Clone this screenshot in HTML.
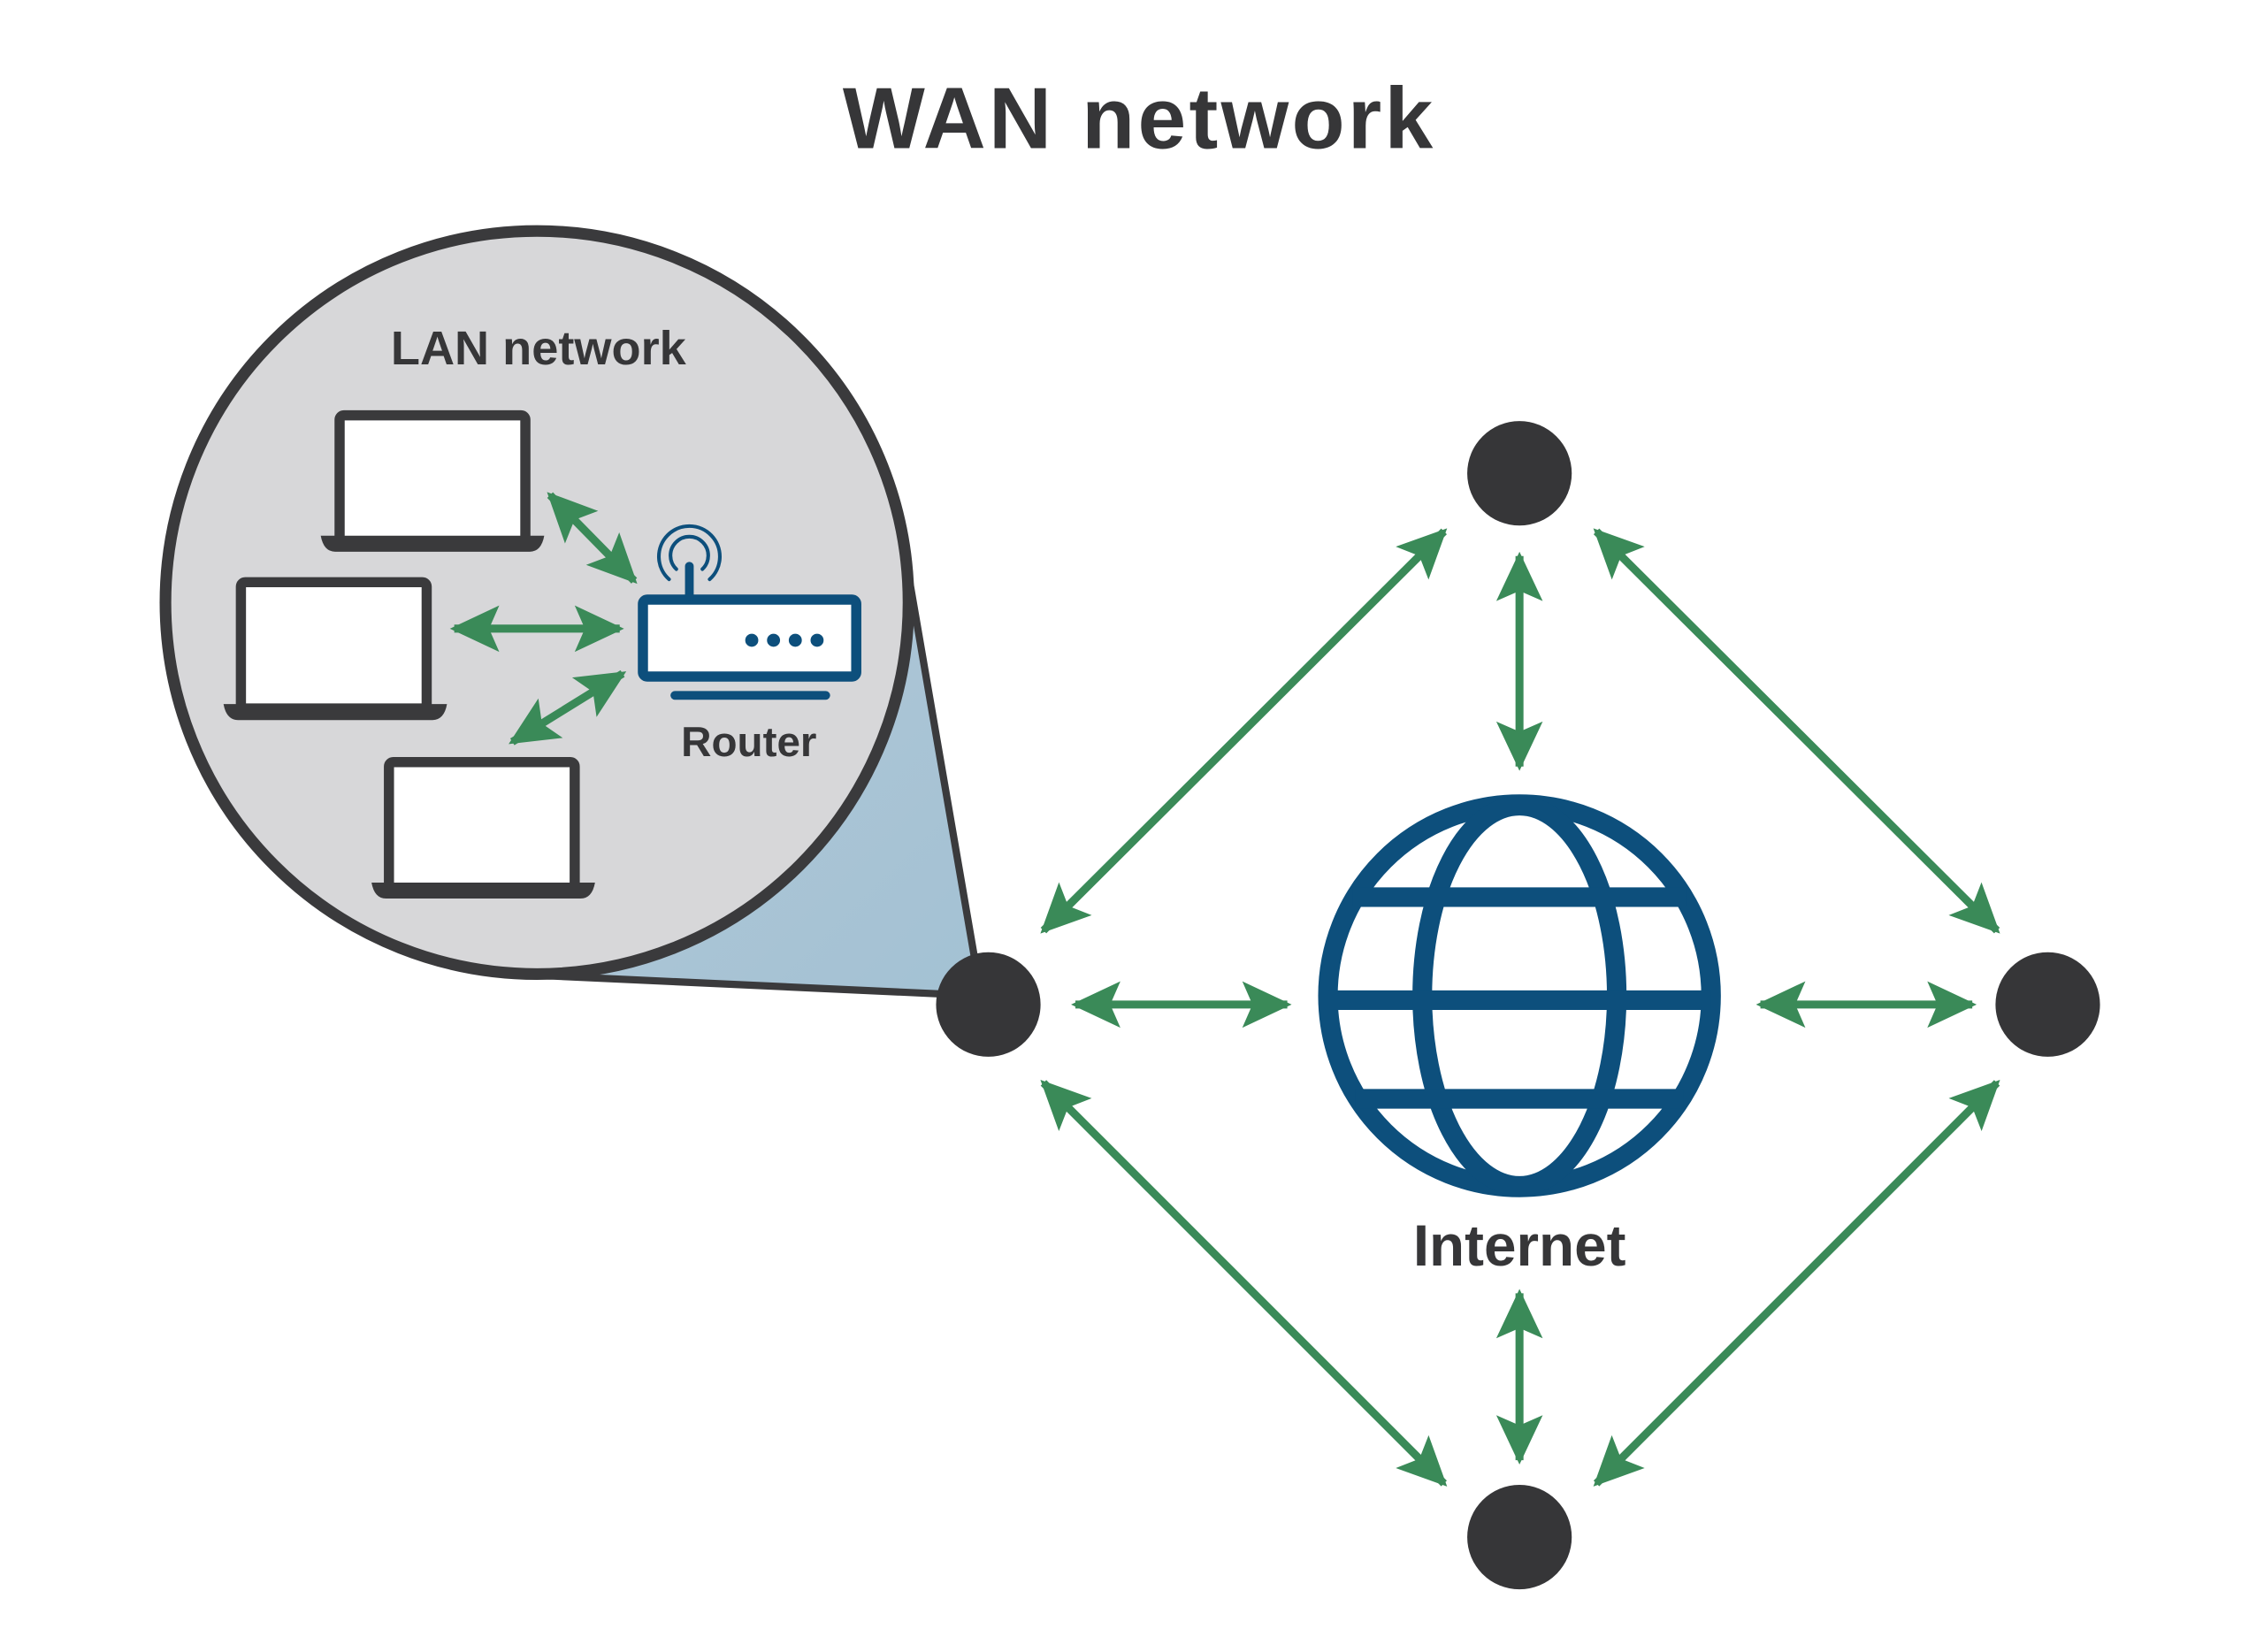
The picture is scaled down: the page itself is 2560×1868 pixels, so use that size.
<!DOCTYPE html>
<html><head><meta charset="utf-8"><style>html,body{margin:0;padding:0;background:#fff}svg{display:block}</style></head>
<body>
<svg width="2560" height="1868" viewBox="0 0 1560 1138" xmlns="http://www.w3.org/2000/svg">
<defs>
<marker id="h" markerUnits="userSpaceOnUse" markerWidth="44" markerHeight="44" viewBox="-36 -22 44 44" refX="0" refY="0" orient="auto-start-reverse">
<path d="M3,0 L-31,-16 L-24,0 L-31,16 Z" fill="#3a8a58"/>
</marker>
<linearGradient id="g" x1="0" y1="0" x2="1" y2="1"><stop offset="0" stop-color="#b2c8d8"/><stop offset="1" stop-color="#a3c1d3"/></linearGradient>
</defs>
<text x="785" y="102" text-anchor="middle" font-family="Liberation Sans, sans-serif" font-weight="bold" font-size="60" letter-spacing="2" fill="#363638">WAN network</text>

<polygon points="625,390 676,686 372,672 520,600" fill="url(#g)" stroke="#3a3a3c" stroke-width="5" stroke-linejoin="round"/>
<circle cx="370" cy="415" r="256" fill="#d7d7d9" stroke="#3a3a3c" stroke-width="8"/>

<text x="371" y="251" text-anchor="middle" font-family="Liberation Sans, sans-serif" font-weight="bold" font-size="33" fill="#363638">LAN network</text>

<g fill="#fff" stroke="#3a3a3c" stroke-width="7" stroke-linejoin="round">
<rect x="234" y="286" width="128" height="87" rx="3"/>
<rect x="166" y="401" width="128" height="87" rx="3"/>
<rect x="268" y="525" width="128" height="87" rx="3"/>
</g>
<g fill="#3a3a3c">
<path d="M221,369 h154 q-2,11 -10,11 h-134 q-8,0 -10,-11z"/>
<path d="M154,485 h154 q-2,11 -10,11 h-134 q-8,0 -10,-11z"/>
<path d="M256,608 h154 q-2,11 -10,11 h-134 q-8,0 -10,-11z"/>
</g>

<g stroke="#0d4f7c" fill="none" stroke-linecap="round">
<rect x="443" y="413" width="147" height="53" rx="3" fill="#fff" stroke-width="7"/>
<line x1="465" y1="479" x2="569" y2="479" stroke-width="6"/>
<line x1="475" y1="390" x2="475" y2="411" stroke-width="6"/>
<path d="M461,399 A21,21 0 1 1 489,399" stroke-width="2.5"/>
<path d="M466,392 A13,13 0 1 1 484,392" stroke-width="2.5"/>
</g>
<g fill="#0d4f7c"><circle cx="518" cy="441" r="4.5"/><circle cx="533" cy="441" r="4.5"/><circle cx="548" cy="441" r="4.5"/><circle cx="563" cy="441" r="4.5"/></g>
<text x="516" y="521" text-anchor="middle" font-family="Liberation Sans, sans-serif" font-weight="bold" font-size="29" fill="#363638">Router</text>

<g stroke="#3a8a58" stroke-width="5.5" marker-start="url(#h)" marker-end="url(#h)">
<line x1="379" y1="341" x2="437" y2="400"/>
<line x1="313" y1="433" x2="427" y2="433"/>
<line x1="353" y1="511" x2="429" y2="464"/>
<line x1="719" y1="641" x2="995" y2="366"/>
<line x1="1047" y1="383" x2="1047" y2="528"/>
<line x1="1100" y1="366" x2="1376" y2="641"/>
<line x1="741" y1="692" x2="887" y2="692"/>
<line x1="1213" y1="692" x2="1359" y2="692"/>
<line x1="719" y1="746" x2="995" y2="1022"/>
<line x1="1047" y1="891" x2="1047" y2="1006"/>
<line x1="1100" y1="1022" x2="1376" y2="746"/>
</g>

<g fill="#363638">
<circle cx="1047" cy="326" r="36"/>
<circle cx="681" cy="692" r="36"/>
<circle cx="1411" cy="692" r="36"/>
<circle cx="1047" cy="1059" r="36"/>
</g>

<g stroke="#0d4f7c" stroke-width="13.5" fill="none">
<circle cx="1047" cy="686" r="132"/>
<ellipse cx="1047" cy="686" rx="67" ry="131"/>
<line x1="932" y1="618" x2="1162" y2="618"/>
<line x1="915" y1="689" x2="1179" y2="689"/>
<line x1="934" y1="757" x2="1160" y2="757"/>
</g>
<text x="1047" y="872" text-anchor="middle" font-family="Liberation Sans, sans-serif" font-weight="bold" font-size="40" fill="#363638">Internet</text>
</svg>
</body></html>
